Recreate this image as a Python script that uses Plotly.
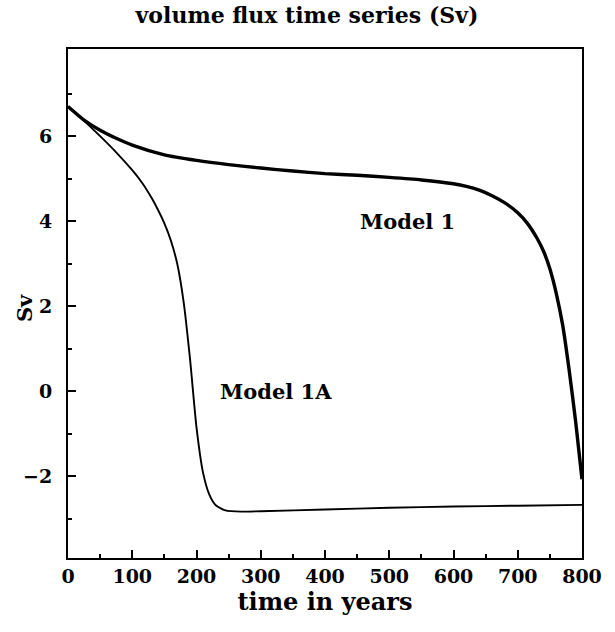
import plotly.graph_objects as go

# Model 1 (thick curve)
t_model1 = [0, 25, 50, 75, 100, 150, 200, 250, 300, 350, 400, 450, 500, 550, 600,
            620, 640, 660, 680, 700, 715, 730, 740, 750, 760, 770, 780, 790, 800]
sv_model1 = [6.70, 6.38, 6.14, 5.95, 5.79, 5.56, 5.43, 5.33, 5.25, 5.18, 5.12, 5.08,
             5.03, 4.97, 4.88, 4.82, 4.73, 4.60, 4.43, 4.20, 3.95, 3.60, 3.30, 2.88,
             2.30, 1.55, 0.50, -0.70, -2.07]

# Model 1A (thin curve)
t_model1a = [0, 25, 50, 75, 100, 115, 130, 140, 150, 160, 170, 180, 190, 200, 210,
             220, 230, 245, 270, 300, 400, 500, 600, 700, 800]
sv_model1a = [6.70, 6.36, 6.00, 5.62, 5.20, 4.91, 4.55, 4.27, 3.95, 3.55, 3.00, 2.10,
              0.75, -0.85, -1.90, -2.43, -2.68, -2.80, -2.83, -2.82, -2.78, -2.74,
              -2.71, -2.69, -2.67]

x_ticks = [0, 100, 200, 300, 400, 500, 600, 700, 800]
x_minor = [50, 150, 250, 350, 450, 550, 650, 750]
y_ticks = [-2, 0, 2, 4, 6]
y_minor = [-3, -1, 1, 3, 5, 7]

labels = [("Model 1", 529, 4.0), ("Model 1A", 323, 0.0)]

FONT = "DejaVu Serif"
FB = "<b>%s</b>"

fig = go.Figure()
fig.add_trace(go.Scatter(x=t_model1, y=sv_model1, mode="lines",
                         line=dict(color="black", width=3.4, shape="spline", smoothing=0.6),
                         showlegend=False))
fig.add_trace(go.Scatter(x=t_model1a, y=sv_model1a, mode="lines",
                         line=dict(color="black", width=1.9, shape="spline", smoothing=0.6),
                         showlegend=False))

for txt, xv, yv in labels:
    fig.add_annotation(x=xv, y=yv, text=FB % txt, showarrow=False,
                       font=dict(family=FONT, size=21, color="black"))

# y-axis title placed as a rotated label left of the tick labels
fig.add_annotation(xref="paper", yref="paper", x=0, y=0.491, xshift=-44,
                   xanchor="center", yanchor="middle",
                   text=FB % "Sv", textangle=-90, showarrow=False,
                   font=dict(family=FONT, size=21, color="black"))

fig.update_layout(
    width=615, height=632,
    margin=dict(l=68, r=33, t=49, b=74),
    paper_bgcolor="white", plot_bgcolor="white",
    font=dict(family=FONT, size=19, color="black"),
    title=dict(text=FB % "volume flux time series (Sv)", x=307 / 615, xanchor="center",
               y=1 - 15 / 632, yanchor="middle",
               font=dict(family=FONT, size=22, color="black")),
)
fig.update_xaxes(range=[0, 800], tickvals=x_ticks, ticks="inside", ticklen=8,
                 tickwidth=1.5, tickcolor="black", automargin=False,
                 tickfont=dict(family=FONT, size=19, weight="bold"),
                 minor=dict(tickvals=x_minor, ticks="inside", ticklen=4, tickwidth=1.5,
                            tickcolor="black"),
                 showline=True, linewidth=2, linecolor="black", mirror=True,
                 showgrid=False, zeroline=False,
                 title=dict(text=FB % "time in years", standoff=6,
                            font=dict(family=FONT, size=24)))
fig.update_yaxes(range=[-3.92, 8.05], tickvals=y_ticks, ticktext=["\u22122", "0", "2", "4", "6"],
                 ticks="inside", ticklen=8, ticklabelstandoff=10, automargin=False,
                 tickwidth=1.5, tickcolor="black",
                 tickfont=dict(family=FONT, size=19, weight="bold"),
                 minor=dict(tickvals=y_minor, ticks="inside", ticklen=4, tickwidth=1.5,
                            tickcolor="black"),
                 showline=True, linewidth=2, linecolor="black", mirror=True,
                 showgrid=False, zeroline=False)

# remove the page's default 8px body margin so the figure sits at the window's corner
fig.write_html("out.html", config={"displayModeBar": False},
               post_script="document.body.style.margin='0';")
